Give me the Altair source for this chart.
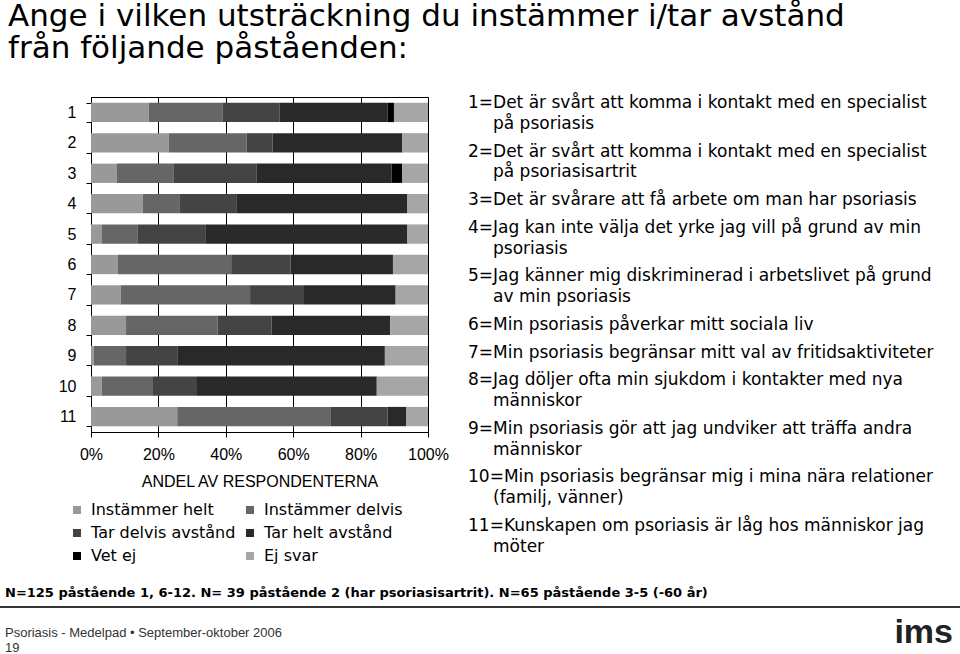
import altair as alt
import pandas as pd

# ---------------- data ----------------
categories = ["1", "2", "3", "4", "5", "6", "7", "8", "9", "10", "11"]
responses = ["Instämmer helt", "Instämmer delvis", "Tar delvis avstånd",
             "Tar helt avstånd", "Vet ej", "Ej svar"]
instammer_helt = [17.1, 23.1, 7.7, 15.4, 3.1, 8.0, 8.8, 10.4, 0.8, 3.2, 25.6]
instammer_delvis = [21.9, 23.1, 16.9, 10.8, 10.8, 33.6, 38.4, 27.2, 9.6, 15.2, 45.6]
tar_delvis = [16.9, 7.7, 24.6, 16.9, 20.0, 17.6, 16.0, 16.0, 15.2, 12.8, 16.8]
tar_helt = [32.1, 38.5, 40.0, 50.8, 60.0, 30.4, 27.2, 35.2, 61.6, 53.6, 5.6]
vet_ej = [1.9, 0, 3.1, 0, 0, 0, 0, 0, 0, 0, 0]
ej_svar = [10.1, 7.6, 7.7, 6.1, 6.1, 10.4, 9.6, 11.2, 12.8, 15.2, 6.4]
x_ticks = [0, 20, 40, 60, 80, 100]

title_line1 = "Ange i vilken utsträckning du instämmer i/tar avstånd"
title_line2 = "från följande påståenden:"
statements = [
    ["1=Det är svårt att komma i kontakt med en specialist", "på psoriasis"],
    ["2=Det är svårt att komma i kontakt med en specialist", "på psoriasisartrit"],
    ["3=Det är svårare att få arbete om man har psoriasis"],
    ["4=Jag kan inte välja det yrke jag vill på grund av min", "psoriasis"],
    ["5=Jag känner mig diskriminerad i arbetslivet på grund", "av min psoriasis"],
    ["6=Min psoriasis påverkar mitt sociala liv"],
    ["7=Min psoriasis begränsar mitt val av fritidsaktiviteter"],
    ["8=Jag döljer ofta min sjukdom i kontakter med nya", "människor"],
    ["9=Min psoriasis gör att jag undviker att träffa andra", "människor"],
    ["10=Min psoriasis begränsar mig i mina nära relationer", "(familj, vänner)"],
    ["11=Kunskapen om psoriasis är låg hos människor jag", "möter"],
]
footnote = "N=125 påstående 1, 6-12. N= 39 påstående 2 (har psoriasisartrit). N=65 påstående 3-5 (-60 år)"
source_line = "Psoriasis - Medelpad • September-oktober 2006"
page_number = "19"
logo_text = "ims"

colors = ["#999999", "#666666", "#444444", "#292929", "#000000", "#a6a6a6"]

# ---------------- tables ----------------
series = [instammer_helt, instammer_delvis, tar_delvis, tar_helt, vet_ej, ej_svar]
rows = []
for k, (resp, vals) in enumerate(zip(responses, series)):
    for cat, v in zip(categories, vals):
        rows.append({"cat": cat, "resp": resp, "value": v, "order": k})
bars_df = pd.DataFrame(rows)

# statement text lines (layout of a hanging-indent list)
FIRST_Y = 6.0      # first line centre, relative to plot top
ITEM_GAP = 27.8
LINE_H = 20.7
first_rows, cont_rows = [], []
extra = 0
for i, lines in enumerate(statements):
    y0 = FIRST_Y + ITEM_GAP * i + LINE_H * extra
    first_rows.append({"t": lines[0], "pos": y0})
    for j, ln in enumerate(lines[1:], start=1):
        cont_rows.append({"t": ln, "pos": y0 + LINE_H * j})
    extra += len(lines) - 1
first_df = pd.DataFrame(first_rows)
cont_df = pd.DataFrame(cont_rows)

W, H = 337, 335
SPACED = "DejaVu Sans"
PLAIN = "Liberation Sans"

bars = alt.Chart(bars_df).mark_bar(stroke=None).encode(
    x=alt.X("value:Q", stack="zero",
            scale=alt.Scale(domain=[0, 100], nice=False),
            axis=alt.Axis(values=x_ticks, labelExpr="datum.value + '%'",
                          title="ANDEL AV RESPONDENTERNA",
                          grid=True, gridColor="black", gridOpacity=1, gridWidth=1,
                          domainColor="black", tickColor="black", tickSize=5,
                          labelFont=PLAIN, labelFontSize=16, labelColor="black",
                          labelPadding=9, titleFont=PLAIN, titleFontSize=16,
                          titleFontWeight="normal", titleColor="black",
                          titlePadding=11, labelFlush=False)),
    y=alt.Y("cat:N", sort=categories,
            scale=alt.Scale(paddingInner=0.365, paddingOuter=0.19),
            axis=alt.Axis(title=None, tickBand="extent", tickSize=5,
                          tickColor="black", domainColor="black",
                          labelFont=PLAIN, labelFontSize=16, labelColor="black",
                          labelPadding=10, labelAngle=0)),
    color=alt.Color("resp:N", scale=alt.Scale(domain=responses, range=colors),
                    legend=alt.Legend(orient="none", legendX=-22, legendY=405,
                                      direction="horizontal",
                                      columns=2, symbolType="square", symbolSize=64,
                                      symbolStrokeWidth=0, labelFont=SPACED,
                                      labelFontSize=16, labelColor="black",
                                      labelOffset=6, columnPadding=6,
                                      rowPadding=7, padding=0, title=None)),
    order=alt.Order("order:Q"),
)

first_txt = alt.Chart(first_df).mark_text(
    align="left", baseline="middle", font=SPACED, fontSize=17, color="black"
).encode(text="t:N", x=alt.value(377), y=alt.Y("pos:Q", scale=None, axis=None))

cont_txt = alt.Chart(cont_df).mark_text(
    align="left", baseline="middle", font=SPACED, fontSize=17, color="black"
).encode(text="t:N", x=alt.value(402), y=alt.Y("pos:Q", scale=None, axis=None))

title1 = alt.Chart(pd.DataFrame({"t": [title_line1]})).mark_text(
    align="left", baseline="alphabetic", font=SPACED, fontSize=31, color="black"
).encode(text="t:N", x=alt.value(-83), y=alt.value(-71))

title2 = alt.Chart(pd.DataFrame({"t": [title_line2]})).mark_text(
    align="left", baseline="alphabetic", font=SPACED, fontSize=31, color="black"
).encode(text="t:N", x=alt.value(-83), y=alt.value(-39))

foot_txt = alt.Chart(pd.DataFrame({"t": [footnote]})).mark_text(
    align="left", baseline="middle", font=SPACED, fontSize=13, fontWeight="bold",
    color="black"
).encode(text="t:N", x=alt.value(-86), y=alt.value(496))

foot_rule = alt.Chart(pd.DataFrame({"a": [0]})).mark_rule(
    color="#333333", strokeWidth=2
).encode(x=alt.value(-91), x2=alt.value(869), y=alt.value(510))

source_txt = alt.Chart(pd.DataFrame({"t": [source_line]})).mark_text(
    align="left", baseline="middle", font=PLAIN, fontSize=13, color="#333333"
).encode(text="t:N", x=alt.value(-86), y=alt.value(536))

page_txt = alt.Chart(pd.DataFrame({"t": [page_number]})).mark_text(
    align="left", baseline="middle", font=PLAIN, fontSize=13, color="#333333"
).encode(text="t:N", x=alt.value(-86), y=alt.value(551))

logo_txt = alt.Chart(pd.DataFrame({"t": [logo_text]})).mark_text(
    align="right", baseline="alphabetic", font=PLAIN, fontSize=34,
    fontWeight="bold", color="#222222"
).encode(text="t:N", x=alt.value(862), y=alt.value(546))

chart = alt.layer(
    bars, first_txt, cont_txt, title1, title2, foot_txt, foot_rule,
    source_txt, page_txt, logo_txt
).resolve_scale(y="independent", x="independent").properties(
    width=W, height=H,
    autosize=alt.AutoSizeParams(type="none"),
    padding={"left": 91, "top": 97, "right": 532, "bottom": 222},
    background="white",
).configure_view(stroke="black", strokeWidth=1)

chart.save("out.html", embed_options={"renderer": "svg", "actions": False})
